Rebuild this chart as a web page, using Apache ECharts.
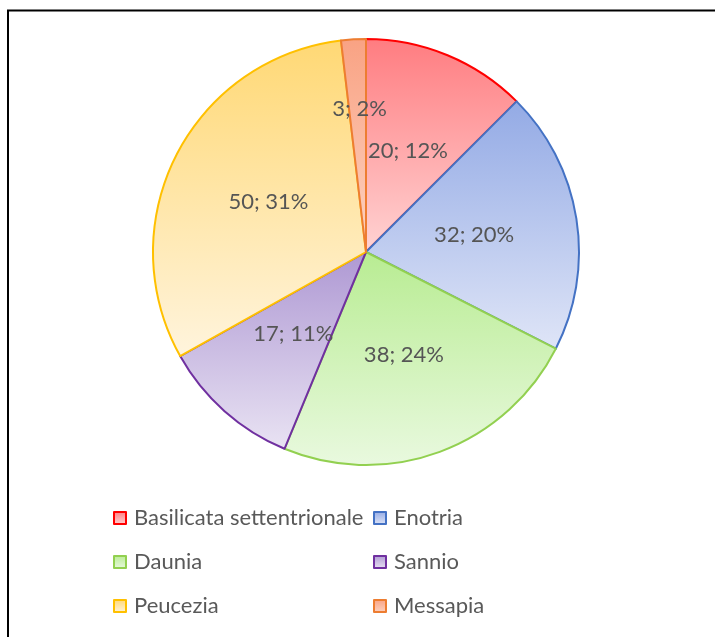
<!DOCTYPE html>
<html>
<head>
<meta charset="utf-8">
<script src="https://cdn.jsdelivr.net/npm/echarts@6/dist/echarts.min.js"></script>
<style>
html,body{margin:0;padding:0;background:#fff;}
#c{width:715px;height:637px;}
</style>
</head>
<body>
<div id="c"></div>
<script>
const categories = ['Basilicata settentrionale', 'Enotria', 'Daunia', 'Sannio', 'Peucezia', 'Messapia'];
const values = [20, 32, 38, 17, 50, 3];
const percentLabels = [12, 20, 24, 11, 31, 2];
const borderColors = ['#ff0000', '#4472c4', '#92d050', '#7030a0', '#ffc000', '#ed7d31'];
const topColors = ['#ff7c80', '#93aae5', '#b8ec92', '#ae98d3', '#ffd874', '#f9a283'];
const bottomColors = ['#ffd3d3', '#dfe5f7', '#e9f9df', '#e9e3f3', '#fff4dd', '#fdd3c2'];
const legendCol1 = ['Basilicata settentrionale', 'Daunia', 'Peucezia'];
const legendCol2 = ['Enotria', 'Sannio', 'Messapia'];

const FONT = 'Lato, "Open Sans", sans-serif';

const data = categories.map((name, i) => ({
  name: name,
  value: values[i],
  itemStyle: {
    color: {
      type: 'linear', x: 0, y: 0, x2: 0, y2: 1,
      colorStops: [{offset: 0, color: topColors[i]}, {offset: 1, color: bottomColors[i]}]
    },
    borderColor: borderColors[i],
    borderWidth: 2
  }
}));

const chart = echarts.init(document.getElementById('c'), null, {renderer: 'canvas'});
const legendBase = {
  orient: 'vertical',
  padding: 0,
  itemWidth: 12,
  itemHeight: 12,
  itemGap: 20,
  icon: 'rect',
  textStyle: {color: '#595959', fontSize: 22, fontFamily: FONT, lineHeight: 24, padding: [0, 0, 0, 3]},
  selectedMode: false
};
chart.setOption({
  animation: false,
  backgroundColor: '#fff',
  graphic: [{
    type: 'rect', silent: true,
    shape: {x: 8, y: 10.5, width: 800, height: 700},
    style: {fill: 'none', stroke: '#000', lineWidth: 2}
  }],
  legend: [
    Object.assign({}, legendBase, {data: legendCol1, left: 113, top: 506}),
    Object.assign({}, legendBase, {data: legendCol2, left: 373, top: 506})
  ],
  series: [{
    type: 'pie',
    center: [366, 252],
    radius: 213,
    startAngle: 90,
    clockwise: true,
    data: data,
    label: {
      show: true,
      position: 'inside',
      color: '#555555',
      fontSize: 22,
      fontFamily: FONT,
      formatter: p => p.value + '; ' + percentLabels[p.dataIndex] + '%'
    },
    labelLine: {show: false},
    labelLayout: function (p) {
      if (p.dataIndex === 5) return {dx: 0, dy: -34};
      return {};
    },
    emphasis: {disabled: true}
  }]
});
</script>
</body>
</html>
